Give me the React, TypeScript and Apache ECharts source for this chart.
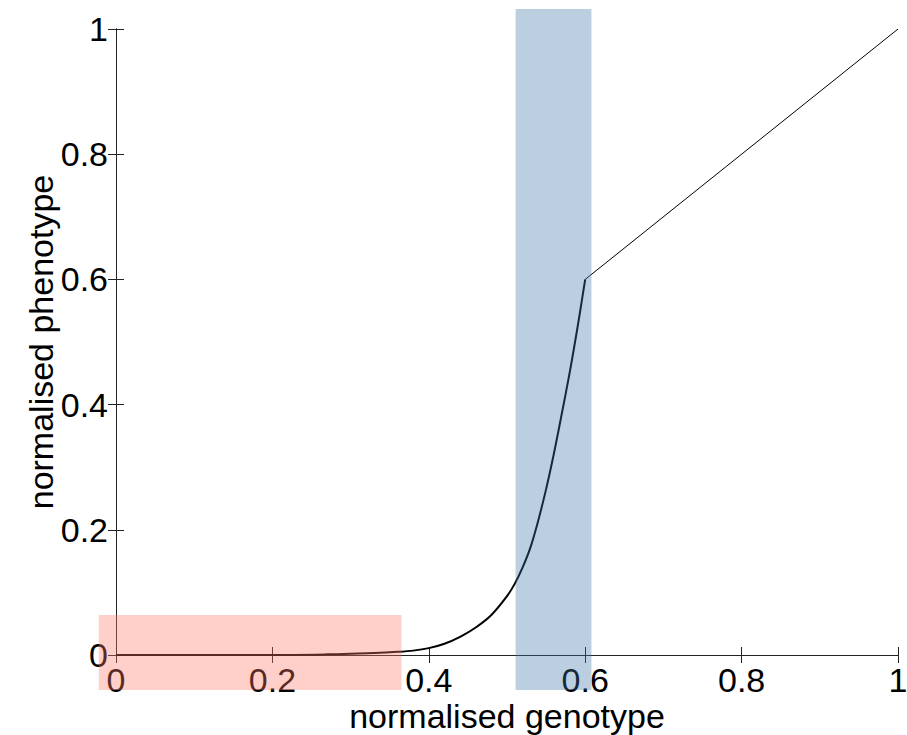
import React, { useEffect, useRef } from "react";
import * as echarts from "echarts";

// Curve
const genotype = [0, 0.1, 0.2, 0.27, 0.3, 0.33, 0.36, 0.38, 0.4, 0.42, 0.44, 0.46, 0.48, 0.5, 0.51, 0.52, 0.53, 0.54, 0.55, 0.56, 0.57, 0.58, 0.59, 0.6];
const phenotype = [0, 0, 0, 0.001, 0.002, 0.003, 0.005, 0.007, 0.011, 0.018, 0.029, 0.044, 0.064, 0.094, 0.114, 0.14, 0.172, 0.215, 0.265, 0.322, 0.385, 0.45, 0.522, 0.6];

// Linear segment
const linearX = [0.6, 1];
const linearY = [0.6, 1];

// Shaded regions
const pinkX = [-0.022, 0.365];
const pinkY = [-0.056, 0.064];
const blueX = [0.511, 0.608];
const blueY = [-0.056, 1.032];

const xTicks = [0, 0.2, 0.4, 0.6, 0.8, 1];
const yTicks = [0, 0.2, 0.4, 0.6, 0.8, 1];

const FONT = "'Liberation Sans', Arial, Helvetica, sans-serif";

export default function App() {
  const ref = useRef<HTMLDivElement>(null);
  useEffect(() => {
    if (!ref.current) return;
    const chart = echarts.init(ref.current, undefined, { renderer: "svg" });
    const axisCommon = {
      type: "value" as const,
      min: 0,
      max: 1,
      interval: 0.2,
      splitLine: { show: false },
      axisLine: { show: true, lineStyle: { color: "#222", width: 1 } },
      axisTick: { show: true, inside: true, length: 8, lineStyle: { color: "#222", width: 1 } },
    };
    const curveData = genotype.map((g, i) => [g, phenotype[i]]);
    const lineData = linearX.map((g, i) => [g, linearY[i]]);
    const regions = [
      [pinkX[0], pinkX[1], pinkY[0], pinkY[1], 0],
      [blueX[0], blueX[1], blueY[0], blueY[1], 1],
    ];
    const regionColors = ["rgba(255,120,100,0.35)", "rgba(64,118,166,0.35)"];
    chart.setOption({
      animation: false,
      backgroundColor: "#fff",
      grid: { left: 116, top: 29, width: 782, height: 626, containLabel: false, outerBoundsMode: "none" },
      xAxis: [
        {
          ...axisCommon,
          position: "bottom",
          name: "normalised genotype",
          nameLocation: "middle",
          nameGap: 44,
          nameMoveOverlap: false,
          nameTextStyle: { fontFamily: FONT, fontSize: 34, lineHeight: 34, color: "#000" },
          axisLabel: {
            show: true,
            margin: 8,
            fontFamily: FONT,
            fontSize: 34,
            color: "#000",
            formatter: (v: number) => (xTicks.includes(Math.round(v * 10) / 10) ? String(Math.round(v * 10) / 10) : ""),
          },
        },
        { ...axisCommon, position: "top", axisLabel: { show: false } },
      ],
      yAxis: [
        {
          ...axisCommon,
          position: "left",
          name: "normalised phenotype",
          nameLocation: "middle",
          nameGap: 58,
          nameMoveOverlap: false,
          nameTextStyle: { fontFamily: FONT, fontSize: 34, color: "#000" },
          axisLabel: {
            show: true,
            margin: 8,
            fontFamily: FONT,
            fontSize: 34,
            color: "#000",
            formatter: (v: number) => (yTicks.includes(Math.round(v * 10) / 10) ? String(Math.round(v * 10) / 10) : ""),
          },
        },
        { ...axisCommon, position: "right", axisLabel: { show: false } },
      ],
      series: [
        {
          type: "line",
          data: curveData,
          showSymbol: false,
          smooth: 0.3,
          lineStyle: { color: "#000", width: 2 },
          z: 3,
        },
        {
          type: "line",
          data: lineData,
          showSymbol: false,
          lineStyle: { color: "#000", width: 1 },
          z: 3,
        },
        {
          type: "custom",
          clip: false,
          z: 10,
          data: regions,
          renderItem: (_params: any, api: any) => {
            const p0 = api.coord([api.value(0), api.value(3)]);
            const p1 = api.coord([api.value(1), api.value(2)]);
            return {
              type: "rect",
              shape: { x: p0[0], y: p0[1], width: p1[0] - p0[0], height: p1[1] - p0[1] },
              style: { fill: regionColors[api.value(4)] },
            };
          },
        },
      ],
    });
    return () => chart.dispose();
  }, []);
  return <div ref={ref} style={{ width: 907, height: 735, position: "absolute", left: 0, top: 0 }} />;
}
